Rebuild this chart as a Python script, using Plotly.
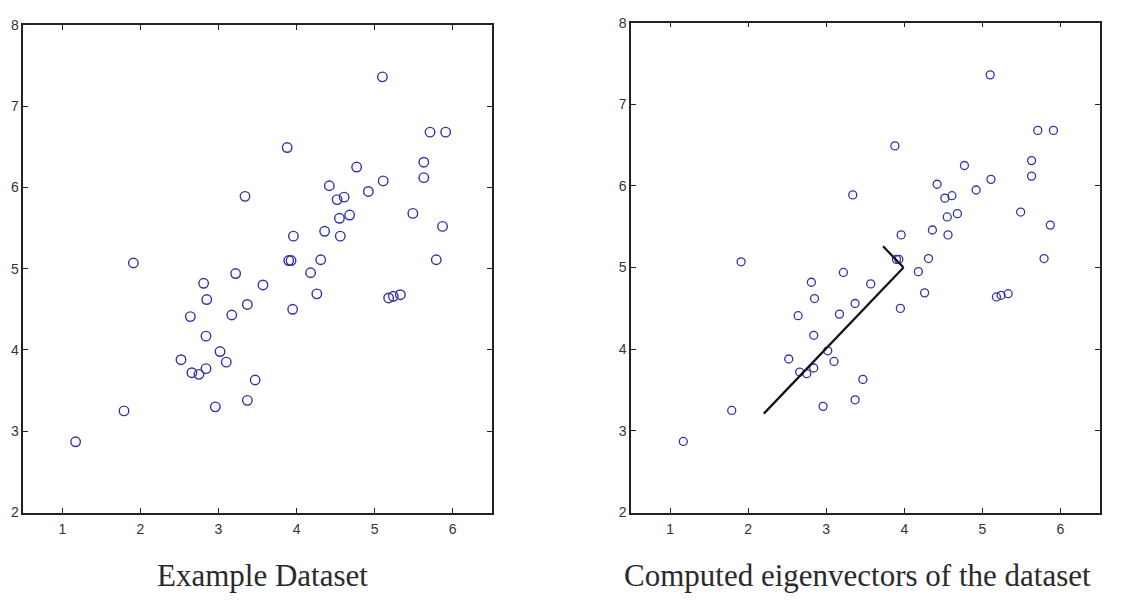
import plotly.graph_objects as go

# Example dataset (50 samples)
x_vals = [5.10, 5.71, 5.91, 3.88, 4.77, 5.63, 5.63, 5.11, 4.42, 4.92,
          3.34, 4.52, 4.61, 4.55, 4.68, 5.49, 5.87, 3.96, 4.36, 4.56,
          1.91, 3.90, 3.93, 4.31, 5.79, 4.18, 3.22, 2.81, 3.57, 4.26,
          5.18, 5.24, 5.33, 2.85, 3.37, 3.95, 2.64, 3.17, 2.84, 3.02,
          3.10, 2.52, 2.66, 2.75, 2.84, 3.47, 3.37, 2.96, 1.79, 1.17]
y_vals = [7.36, 6.68, 6.68, 6.49, 6.25, 6.31, 6.12, 6.08, 6.02, 5.95,
          5.89, 5.85, 5.88, 5.62, 5.66, 5.68, 5.52, 5.40, 5.46, 5.40,
          5.07, 5.10, 5.10, 5.11, 5.11, 4.95, 4.94, 4.82, 4.80, 4.69,
          4.64, 4.66, 4.68, 4.62, 4.56, 4.50, 4.41, 4.43, 4.17, 3.98,
          3.85, 3.88, 3.72, 3.70, 3.77, 3.63, 3.38, 3.30, 3.25, 2.87]

# PCA result: mean, principal directions and drawn lengths
data_mean = [3.99, 5.00]
eig_dirs = [[-0.7071, -0.7071], [-0.7071, 0.7071]]
eig_lengths = [2.53, 0.37]

x_ticks = [1, 2, 3, 4, 5, 6]
y_ticks = [2, 3, 4, 5, 6, 7, 8]
titles = ["Example Dataset", "Computed eigenvectors of the dataset"]

W, H = 1139, 601
marker_color = "#3333a6"

fig = go.Figure()

fig.add_trace(go.Scatter(
    x=x_vals, y=y_vals, mode="markers", xaxis="x", yaxis="y",
    marker=dict(symbol="circle-open", size=9.5, color=marker_color,
                line=dict(width=1.4, color=marker_color)),
    showlegend=False, hoverinfo="skip"))

fig.add_trace(go.Scatter(
    x=x_vals, y=y_vals, mode="markers", xaxis="x2", yaxis="y2",
    marker=dict(symbol="circle-open", size=8, color=marker_color,
                line=dict(width=1.3, color=marker_color)),
    showlegend=False, hoverinfo="skip"))

# Eigenvector segments drawn from the mean
for d, L in zip(eig_dirs, eig_lengths):
    fig.add_trace(go.Scatter(
        x=[data_mean[0], data_mean[0] + L * d[0]],
        y=[data_mean[1], data_mean[1] + L * d[1]],
        mode="lines", xaxis="x2", yaxis="y2",
        line=dict(color="#111111", width=2.2),
        showlegend=False, hoverinfo="skip"))

axis_common = dict(
    showgrid=False, zeroline=False, showline=True, mirror="ticks",
    linecolor="#222222", linewidth=1.5, ticks="inside", ticklen=5,
    tickwidth=1.3, tickcolor="#222222",
    tickfont=dict(family="Liberation Sans, Arial, sans-serif", size=14, color="#333333"),
)

fig.update_layout(
    width=W, height=H,
    margin=dict(l=0, r=0, t=0, b=0),
    paper_bgcolor="white", plot_bgcolor="white",
    xaxis=dict(domain=[23.3 / W, 491.7 / W], range=[0.5, 6.5],
               tickvals=x_ticks, anchor="y", ticklabelstandoff=3, **axis_common),
    yaxis=dict(domain=[(H - 518.3) / H, (H - 17.3) / H], range=[2, 8],
               tickvals=y_ticks, anchor="x", ticklabelstandoff=0, **axis_common),
    xaxis2=dict(domain=[631.0 / W, 1099.5 / W], range=[0.5, 6.5],
                tickvals=x_ticks, anchor="y2", ticklabelstandoff=3, **axis_common),
    yaxis2=dict(domain=[(H - 518.3) / H, (H - 15.0) / H], range=[2, 8],
                tickvals=y_ticks, anchor="x2", ticklabelstandoff=0, **axis_common),
)

title_font = dict(family="Liberation Serif, DejaVu Serif, serif", size=31, color="#2a2a2a")
for cx, text in zip([262 / W, 857 / W], titles):
    fig.add_annotation(x=cx, y=(H - 583) / H, xref="paper", yref="paper",
                       text=text, showarrow=False, font=title_font,
                       xanchor="center", yanchor="middle")

fig.write_html("out.html")
